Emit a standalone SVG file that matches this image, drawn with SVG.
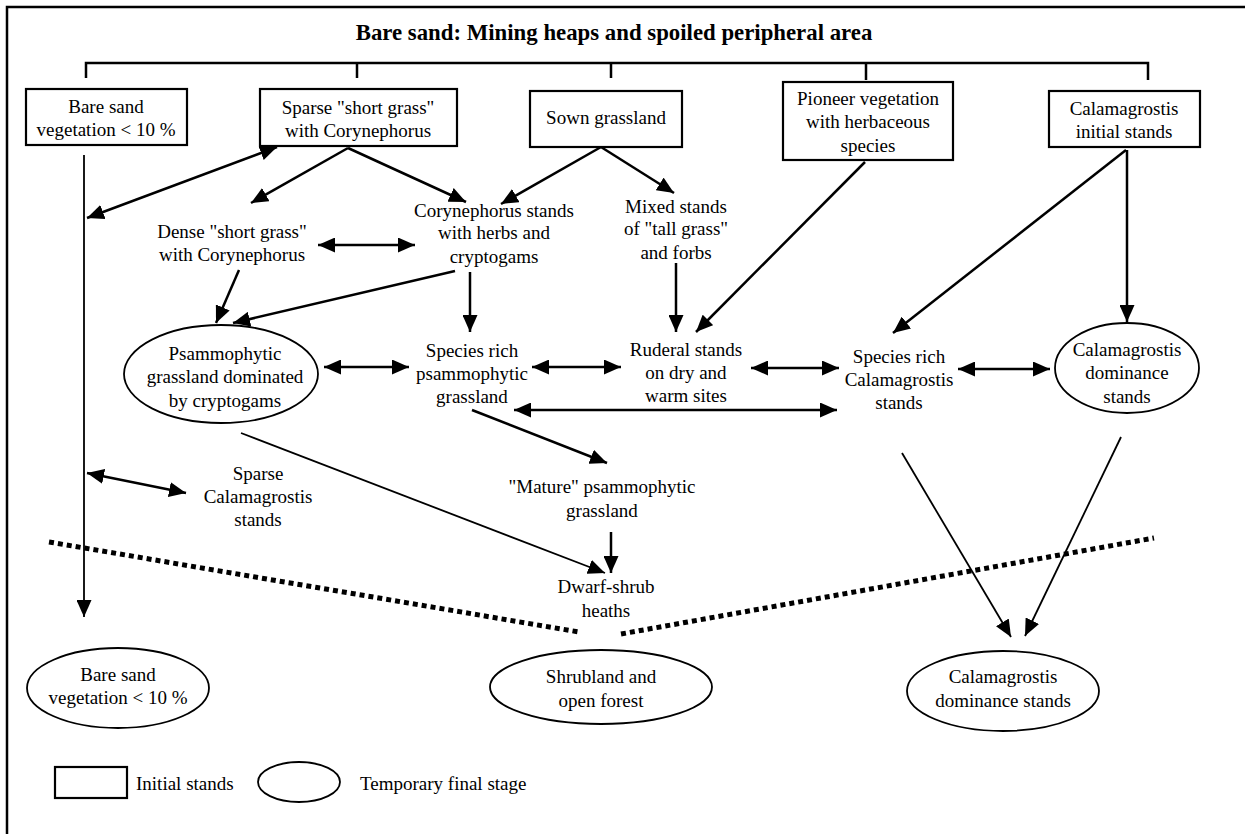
<svg xmlns="http://www.w3.org/2000/svg" width="1245" height="834" viewBox="0 0 1245 834">
<style>
text{font-family:'Liberation Serif','DejaVu Serif',serif;fill:#000}
.t{font-size:19px;text-anchor:middle}
.tl{font-size:19px}
.title{font-size:22.8px;font-weight:bold;text-anchor:middle}
.box{fill:#fff;stroke:#000;stroke-width:2.2}
.ell{fill:#fff;stroke:#000;stroke-width:1.8}
.c{fill:none;stroke:#000;stroke-width:2.5}
.thin{fill:none;stroke:#000;stroke-width:1.8}
.a{marker-end:url(#ah)}
.d{marker-start:url(#ah);marker-end:url(#ah)}
.dot{fill:none;stroke:#000;stroke-width:5;stroke-dasharray:5 4}
</style>
<defs>
<marker id="ah" markerUnits="userSpaceOnUse" markerWidth="18" markerHeight="15" refX="17" refY="7.5" orient="auto-start-reverse" viewBox="0 0 18 15">
<path d="M0,0 L17,7.5 L0,15 z" fill="#000"/>
</marker>
</defs>
<rect x="0" y="0" width="1245" height="834" fill="#fff"/>
<rect x="7" y="7" width="1260" height="850" fill="none" stroke="#000" stroke-width="2.5"/>
<text class="title" x="614" y="40">Bare sand: Mining heaps and spoiled peripheral area</text>

<g id="connectors">
<path class="c" d="M86,78 V63 H1148 V80 M357,63 V78 M611,63 V78 M866,63 V80"/>
<line class="thin a" x1="84" y1="155" x2="84" y2="617"/>
<line class="c d" x1="277" y1="147" x2="87" y2="218"/>
<line class="c a" x1="348" y1="148" x2="251" y2="203"/>
<line class="c a" x1="348" y1="148" x2="466" y2="202"/>
<line class="c a" x1="601" y1="147" x2="501" y2="204"/>
<line class="c a" x1="601" y1="147" x2="674" y2="193"/>
<line class="c d" x1="318" y1="245" x2="415" y2="245"/>
<line class="c a" x1="239" y1="270" x2="216" y2="323"/>
<line class="c a" x1="455" y1="271" x2="233" y2="323"/>
<line class="c a" x1="470" y1="272" x2="470" y2="332"/>
<line class="c a" x1="676" y1="263" x2="676" y2="332"/>
<line class="c a" x1="865" y1="162" x2="696" y2="332"/>
<line class="c a" x1="1126" y1="150" x2="893" y2="333"/>
<line class="c a" x1="1127" y1="150" x2="1127" y2="322"/>
<line class="c d" x1="324" y1="367" x2="409" y2="367"/>
<line class="c d" x1="532" y1="367" x2="621" y2="367"/>
<line class="c d" x1="751" y1="368" x2="839" y2="368"/>
<line class="c d" x1="958" y1="369" x2="1050" y2="369"/>
<line class="c d" x1="514" y1="410" x2="837" y2="410"/>
<line class="c a" x1="472" y1="410" x2="607" y2="463"/>
<line class="thin a" x1="241" y1="433" x2="605" y2="573"/>
<line class="c d" x1="87" y1="473" x2="186" y2="493"/>
<line class="c a" x1="611" y1="532" x2="611" y2="573"/>
<line class="thin a" x1="902" y1="453" x2="1011" y2="637"/>
<line class="thin a" x1="1121" y1="437" x2="1025" y2="636"/>
<line class="dot" x1="49" y1="542" x2="579" y2="632"/>
<line class="dot" x1="621" y1="634" x2="1154" y2="538"/>
</g>

<g id="box-bare-sand">
<rect class="box" x="26" y="89" width="161" height="56"/>
<text class="t" x="106" y="113">Bare sand</text>
<text class="t" x="106" y="136">vegetation &lt; 10 %</text>
</g>
<g id="box-sparse-short-grass">
<rect class="box" x="260" y="89" width="197" height="57"/>
<text class="t" x="358" y="114">Sparse "short grass"</text>
<text class="t" x="358" y="137">with Corynephorus</text>
</g>
<g id="box-sown-grassland">
<rect class="box" x="530" y="91" width="152" height="56"/>
<text class="t" x="606" y="124">Sown grassland</text>
</g>
<g id="box-pioneer">
<rect class="box" x="783" y="82" width="170" height="78"/>
<text class="t" x="868" y="105">Pioneer vegetation</text>
<text class="t" x="868" y="128">with herbaceous</text>
<text class="t" x="868" y="152">species</text>
</g>
<g id="box-calamagrostis-initial">
<rect class="box" x="1049" y="91" width="151" height="56"/>
<text class="t" x="1124" y="115">Calamagrostis</text>
<text class="t" x="1124" y="138">initial stands</text>
</g>

<g id="dense-short-grass">
<text class="t" x="232" y="238">Dense "short grass"</text>
<text class="t" x="232" y="261">with Corynephorus</text>
</g>
<g id="corynephorus-stands">
<text class="t" x="494" y="217">Corynephorus stands</text>
<text class="t" x="494" y="239">with herbs and</text>
<text class="t" x="494" y="263">cryptogams</text>
</g>
<g id="mixed-stands">
<text class="t" x="676" y="213">Mixed stands</text>
<text class="t" x="676" y="235">of "tall grass"</text>
<text class="t" x="676" y="259">and forbs</text>
</g>
<g id="psammophytic-cryptogams">
<ellipse class="ell" cx="221" cy="374" rx="97" ry="49"/>
<text class="t" x="225" y="360">Psammophytic</text>
<text class="t" x="225" y="383">grassland dominated</text>
<text class="t" x="225" y="407">by cryptogams</text>
</g>
<g id="species-rich-psammophytic">
<text class="t" x="472" y="357">Species rich</text>
<text class="t" x="472" y="380">psammophytic</text>
<text class="t" x="472" y="403">grassland</text>
</g>
<g id="ruderal-stands">
<text class="t" x="686" y="356">Ruderal stands</text>
<text class="t" x="686" y="379">on dry and</text>
<text class="t" x="686" y="402">warm sites</text>
</g>
<g id="species-rich-calamagrostis">
<text class="t" x="899" y="363">Species rich</text>
<text class="t" x="899" y="386">Calamagrostis</text>
<text class="t" x="899" y="409">stands</text>
</g>
<g id="calamagrostis-dominance-upper">
<ellipse class="ell" cx="1127" cy="368" rx="72" ry="45"/>
<text class="t" x="1127" y="356">Calamagrostis</text>
<text class="t" x="1127" y="379">dominance</text>
<text class="t" x="1127" y="403">stands</text>
</g>
<g id="sparse-calamagrostis">
<text class="t" x="258" y="480">Sparse</text>
<text class="t" x="258" y="503">Calamagrostis</text>
<text class="t" x="258" y="526">stands</text>
</g>
<g id="mature-psammophytic">
<text class="t" x="602" y="493">"Mature" psammophytic</text>
<text class="t" x="602" y="517">grassland</text>
</g>
<g id="dwarf-shrub">
<text class="t" x="606" y="593">Dwarf-shrub</text>
<text class="t" x="606" y="617">heaths</text>
</g>
<g id="bare-sand-final">
<ellipse class="ell" cx="118" cy="688" rx="91" ry="40"/>
<text class="t" x="118" y="681">Bare sand</text>
<text class="t" x="118" y="704">vegetation &lt; 10 %</text>
</g>
<g id="shrubland-final">
<ellipse class="ell" cx="601" cy="687" rx="111" ry="37"/>
<text class="t" x="601" y="683">Shrubland and</text>
<text class="t" x="601" y="707">open forest</text>
</g>
<g id="calamagrostis-dominance-final">
<ellipse class="ell" cx="1003" cy="691" rx="96" ry="40"/>
<text class="t" x="1003" y="683">Calamagrostis</text>
<text class="t" x="1003" y="707">dominance stands</text>
</g>

<g id="legend">
<rect class="box" x="55" y="767" width="72" height="31"/>
<text class="tl" x="136" y="790">Initial stands</text>
<ellipse class="ell" cx="299" cy="782" rx="41" ry="20"/>
<text class="tl" x="360" y="790">Temporary final stage</text>
</g>
</svg>
